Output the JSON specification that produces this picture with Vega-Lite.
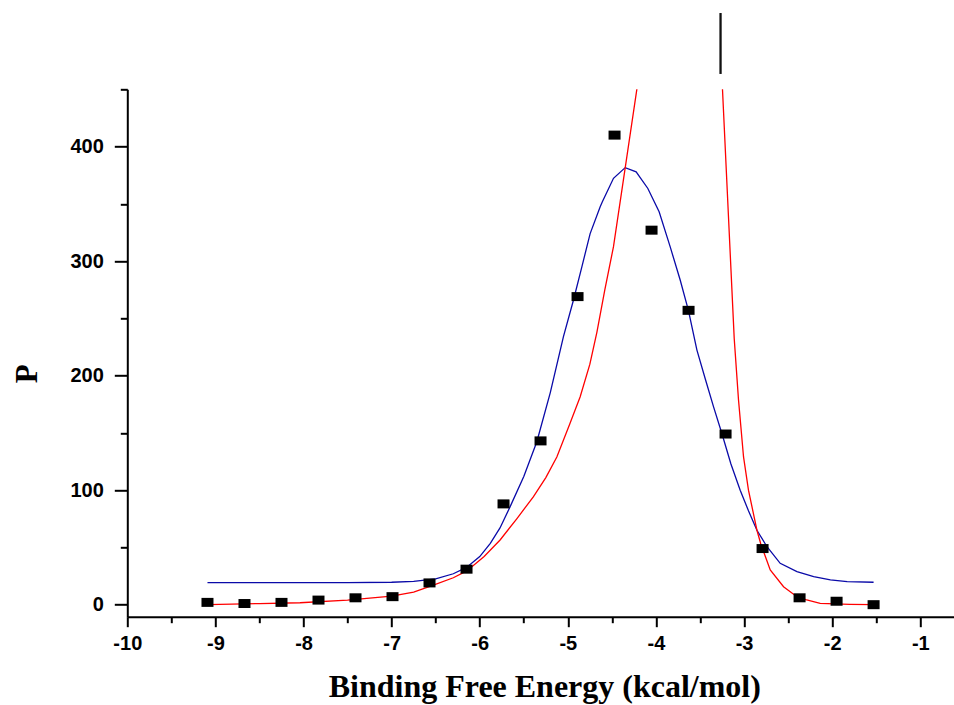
{
  "$schema": "https://vega.github.io/schema/vega-lite/v6.json",
  "width": 827,
  "height": 527.4,
  "autosize": {"type": "none"},
  "padding": {"left": 127.3, "top": 89.3, "right": 0, "bottom": 88.3},
  "background": "white",
  "config": {"view": {"stroke": null}},
  "datasets": {
    "pts": [
      {"x": -9.09, "y": 2}, {"x": -8.67, "y": 1}, {"x": -8.25, "y": 2}, {"x": -7.83, "y": 4},
      {"x": -7.41, "y": 6}, {"x": -6.99, "y": 7}, {"x": -6.57, "y": 19}, {"x": -6.15, "y": 31},
      {"x": -5.73, "y": 88}, {"x": -5.31, "y": 143}, {"x": -4.89, "y": 269}, {"x": -4.47, "y": 410},
      {"x": -4.05, "y": 327}, {"x": -3.63, "y": 257}, {"x": -3.21, "y": 149}, {"x": -2.79, "y": 49},
      {"x": -2.37, "y": 6}, {"x": -1.95, "y": 3}, {"x": -1.53, "y": 0}
    ],
    "blue": [
      {"x": -9.09, "y": 19.2}, {"x": -8.5, "y": 19.2}, {"x": -8.0, "y": 19.2}, {"x": -7.5, "y": 19.3},
      {"x": -7.0, "y": 19.6}, {"x": -6.75, "y": 20.3}, {"x": -6.5, "y": 22.5}, {"x": -6.3, "y": 27},
      {"x": -6.15, "y": 32.5}, {"x": -6.0, "y": 42}, {"x": -5.88, "y": 53.6}, {"x": -5.77, "y": 67},
      {"x": -5.655, "y": 85.6}, {"x": -5.5, "y": 112}, {"x": -5.352, "y": 142.3}, {"x": -5.2, "y": 185},
      {"x": -5.05, "y": 234}, {"x": -4.936, "y": 266}, {"x": -4.841, "y": 295}, {"x": -4.747, "y": 324},
      {"x": -4.633, "y": 347.5}, {"x": -4.607, "y": 352}, {"x": -4.482, "y": 372.3}, {"x": -4.349, "y": 381.6},
      {"x": -4.225, "y": 377.9}, {"x": -4.092, "y": 363.4}, {"x": -3.964, "y": 343.1}, {"x": -3.839, "y": 312.6},
      {"x": -3.725, "y": 283.5}, {"x": -3.631, "y": 256.7}, {"x": -3.535, "y": 222.3}, {"x": -3.44, "y": 197},
      {"x": -3.347, "y": 172.9}, {"x": -3.25, "y": 149}, {"x": -3.15, "y": 123}, {"x": -3.044, "y": 100},
      {"x": -2.95, "y": 82}, {"x": -2.854, "y": 65}, {"x": -2.74, "y": 50.6}, {"x": -2.59, "y": 36.1},
      {"x": -2.4, "y": 28.8}, {"x": -2.21, "y": 24.4}, {"x": -2.02, "y": 21.6}, {"x": -1.83, "y": 20.1},
      {"x": -1.53, "y": 19.6}
    ],
    "red": [
      {"x": -9.09, "y": 0}, {"x": -8.5, "y": 1}, {"x": -8.04, "y": 1.7}, {"x": -7.5, "y": 4},
      {"x": -7.0, "y": 7.5}, {"x": -6.75, "y": 11}, {"x": -6.526, "y": 17}, {"x": -6.3, "y": 23.5},
      {"x": -6.147, "y": 29.5}, {"x": -5.95, "y": 42}, {"x": -5.769, "y": 56.5}, {"x": -5.58, "y": 75},
      {"x": -5.39, "y": 94.3}, {"x": -5.25, "y": 111}, {"x": -5.125, "y": 129}, {"x": -4.975, "y": 158.4},
      {"x": -4.86, "y": 181.6}, {"x": -4.75, "y": 210}, {"x": -4.67, "y": 238}, {"x": -4.58, "y": 275},
      {"x": -4.482, "y": 312.6}, {"x": -4.35, "y": 381}, {"x": -4.217, "y": 450}, {"x": -4.15, "y": 500},
      {"x": -3.265, "y": 500}, {"x": -3.245, "y": 450}, {"x": -3.112, "y": 232.6}, {"x": -3.063, "y": 178.7},
      {"x": -3.006, "y": 129}, {"x": -2.95, "y": 100}, {"x": -2.854, "y": 65}, {"x": -2.81, "y": 53},
      {"x": -2.703, "y": 30.3}, {"x": -2.552, "y": 15.7}, {"x": -2.4, "y": 7}, {"x": -2.3, "y": 4.5},
      {"x": -2.136, "y": 1.2}, {"x": -1.8, "y": 0.3}, {"x": -1.53, "y": 0}
    ],
    "asym": [
      {"x": -3.267, "y": 463.4, "y2": 516.6}
    ]
  },
  "encoding": {
    "x": {
      "field": "x",
      "type": "quantitative",
      "scale": {"domain": [-10, -0.614], "nice": false, "zero": false},
      "axis": {
        "values": [-10, -9.5, -9, -8.5, -8, -7.5, -7, -6.5, -6, -5.5, -5, -4.5, -4, -3.5, -3, -2.5, -2, -1.5, -1],
        "title": "Binding Free Energy (kcal/mol)",
        "labelExpr": "datum.value % 1 === 0 ? '' + datum.value : ''",
        "labelFont": "Liberation Sans",
        "labelFontWeight": "bold",
        "labelFontSize": 20,
        "labelColor": "black",
        "labelPadding": 7,
        "labelFlush": false,
        "labelOverlap": false,
        "labelBound": false,
        "tickSize": {"condition": {"test": "datum.value % 1 !== 0", "value": 6}, "value": 10},
        "tickWidth": 2,
        "tickColor": "black",
        "domainColor": "black",
        "domainWidth": 2,
        "grid": false,
        "titleFont": "Liberation Serif",
        "titleFontWeight": "bold",
        "titleFontSize": 32,
        "titleColor": "black",
        "titleBaseline": "alphabetic",
        "titleAlign": "center",
        "titleX": 417,
        "titleY": 80
      }
    },
    "y": {
      "field": "y",
      "type": "quantitative",
      "scale": {"domain": [-10.5, 450], "nice": false, "zero": false},
      "axis": {
        "values": [0, 50, 100, 150, 200, 250, 300, 350, 400, 450],
        "title": "P",
        "labelExpr": "datum.value % 100 === 0 ? '' + datum.value : ''",
        "labelFont": "Liberation Sans",
        "labelFontWeight": "bold",
        "labelFontSize": 20,
        "labelColor": "black",
        "labelPadding": 11,
        "labelOverlap": false,
        "labelBound": false,
        "labelFlush": false,
        "tickSize": {"condition": {"test": "datum.value % 100 !== 0", "value": 7}, "value": 13},
        "tickWidth": 2,
        "tickColor": "black",
        "domainColor": "black",
        "domainWidth": 2,
        "grid": false,
        "titleFont": "Liberation Serif",
        "titleFontWeight": "bold",
        "titleFontSize": 31,
        "titleColor": "black",
        "titleAngle": -90,
        "titleBaseline": "alphabetic",
        "titleAlign": "center",
        "titleX": -90.8,
        "titleY": 284
      }
    }
  },
  "layer": [
    {"data": {"name": "blue"}, "mark": {"type": "line", "color": "#0A0AA8", "strokeWidth": 1.3, "clip": true}},
    {"data": {"name": "red"}, "mark": {"type": "line", "color": "#FF0000", "strokeWidth": 1.3, "clip": true}},
    {"data": {"name": "pts"}, "mark": {"type": "point", "shape": "M-1,-0.75H1V0.75H-1Z", "size": 144, "filled": true, "color": "black", "opacity": 1}},
    {"data": {"name": "asym"}, "mark": {"type": "rule", "color": "#111111", "strokeWidth": 2.3, "clip": false}, "encoding": {"y2": {"field": "y2"}}}
  ]
}
